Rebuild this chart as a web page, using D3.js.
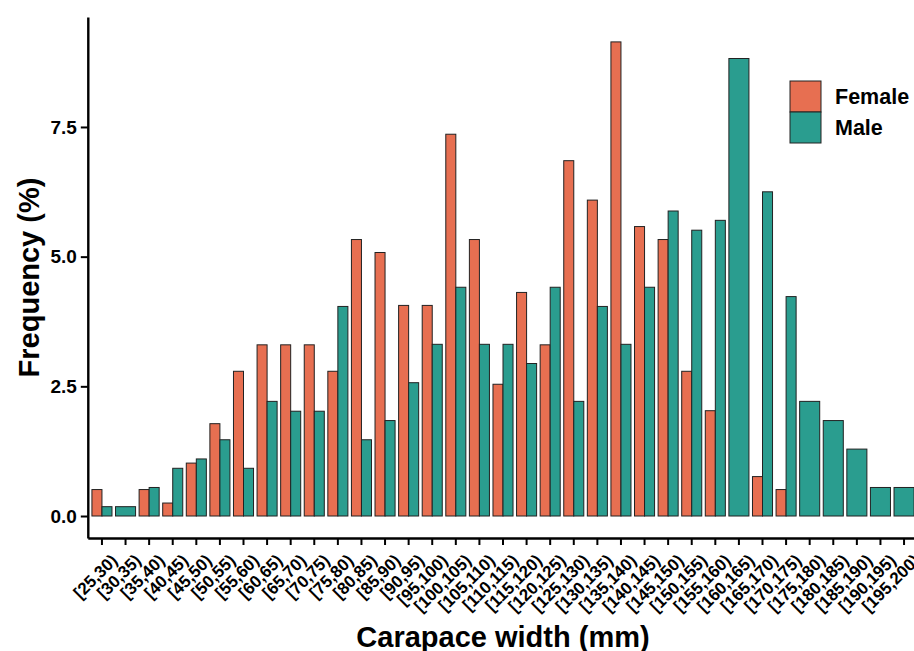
<!DOCTYPE html>
<html>
<head>
<meta charset="utf-8">
<script src="https://cdn.jsdelivr.net/npm/d3@7"></script>
<style>
  body { margin: 0; background: #fff; }
  svg { display: block; font-family: "Liberation Sans", Arial, sans-serif; }
</style>
</head>
<body>
<script>
const WIDTH  = 914;
const HEIGHT = 651;

// panel edges (ggplot-like, right side runs past the picture)
const LEFT = 87.8, RIGHT = 918.2, TOP = 17, BOTTOM = 538;

const categories = ["[25,30)","[30,35)","[35,40)","[40,45)","[45,50)","[50,55)","[55,60)",
  "[60,65)","[65,70)","[70,75)","[75,80)","[80,85)","[85,90)","[90,95)","[95,100)",
  "[100,105)","[105,110)","[110,115)","[115,120)","[120,125)","[125,130)","[130,135)",
  "[135,140)","[140,145)","[145,150)","[150,155)","[155,160)","[160,165)","[165,170)",
  "[170,175)","[175,180)","[180,185)","[185,190)","[190,195)","[195,200)"];

// frequency (%) per class, null where there is no bar
const female = [0.51, null, 0.51, 0.25, 1.02, 1.78, 2.79, 3.30, 3.30, 3.30, 2.79, 5.33,
  5.08, 4.06, 4.06, 7.36, 5.33, 2.54, 4.31, 3.30, 6.85, 6.09, 9.14, 5.58, 5.33, 2.79,
  2.03, null, 0.76, 0.51, null, null, null, null, null];
const male = [0.18, 0.18, 0.55, 0.92, 1.10, 1.47, 0.92, 2.21, 2.02, 2.02, 4.04, 1.47,
  1.84, 2.57, 3.31, 4.41, 3.31, 3.31, 2.94, 4.41, 2.21, 4.04, 3.31, 4.41, 5.88, 5.51,
  5.70, 8.82, 6.25, 4.23, 2.21, 1.84, 1.29, 0.55, 0.55];

const seriesNames  = ["Female", "Male"];
const seriesColors = ["#E76F51", "#2A9D8F"];
const yTicks = [0, 2.5, 5, 7.5];

function setUpChart() {
  const canvas = d3.select("body").append("svg")
      .attr("width", WIDTH)
      .attr("height", HEIGHT);
  return canvas;
}

function setScale() {
  const xScale = d3.scaleBand()
      .domain(categories)
      .range([LEFT, RIGHT])
      .paddingInner(0.15)
      .paddingOuter(0.175);
  const yScale = d3.scaleLinear()
      .domain([-0.424, 9.62])
      .range([BOTTOM, TOP]);
  return [xScale, yScale];
}

function addAxis(canvas, xScale, yScale) {
  const xAxis = d3.axisBottom(xScale).tickSize(7).tickSizeOuter(0).tickPadding(4);
  const yAxis = d3.axisLeft(yScale).tickValues(yTicks)
      .tickFormat(d3.format(".1f")).tickSize(7).tickSizeOuter(0).tickPadding(4);

  const gx = canvas.append("g")
      .attr("id", "x-axis")
      .attr("transform", "translate(0," + BOTTOM + ")")
      .call(xAxis);
  gx.select(".domain").attr("stroke-width", 2.4);
  gx.selectAll(".tick line").attr("stroke-width", 2);
  gx.selectAll(".tick text")
      .attr("font-size", 17)
      .attr("font-weight", "bold")
      .attr("fill", "#000")
      .attr("text-anchor", "end")
      .attr("dy", "0.71em")
      .attr("y", 0)
      .attr("transform", "translate(8,15) rotate(-45)");

  const gy = canvas.append("g")
      .attr("id", "y-axis")
      .attr("transform", "translate(" + LEFT + ",0)")
      .call(yAxis);
  gy.select(".domain").attr("stroke-width", 2.4);
  gy.selectAll(".tick line").attr("stroke-width", 2);
  gy.selectAll(".tick text")
      .attr("font-size", 19)
      .attr("font-weight", "bold")
      .attr("fill", "#000");

  // axis titles
  canvas.append("text")
      .attr("x", (LEFT + RIGHT) / 2)
      .attr("y", 647)
      .attr("text-anchor", "middle")
      .attr("font-size", 29)
      .attr("font-weight", "bold")
      .text("Carapace width (mm)");

  canvas.append("text")
      .attr("transform", "translate(39," + ((TOP + BOTTOM) / 2) + ") rotate(-90)")
      .attr("text-anchor", "middle")
      .attr("font-size", 29)
      .attr("font-weight", "bold")
      .text("Frequency (%)");
}

function drawChart(canvas, xScale, yScale) {
  const rows = categories.map((c, i) => {
    const vals = [female[i], male[i]];
    const present = seriesNames.filter((s, j) => vals[j] != null);
    const sub = d3.scaleBand().domain(present)
        .range([xScale(c), xScale(c) + xScale.bandwidth()]);
    return seriesNames.map((s, j) => ({ cat: c, name: s, value: vals[j], sub: sub, color: seriesColors[j] }))
        .filter(d => d.value != null);
  }).flat();

  canvas.append("g").selectAll("rect")
      .data(rows)
      .enter()
      .append("rect")
        .attr("x", d => d.sub(d.name))
        .attr("y", d => yScale(d.value))
        .attr("width", d => d.sub.bandwidth())
        .attr("height", d => yScale(0) - yScale(d.value))
        .attr("fill", d => d.color)
        .attr("stroke", "#222")
        .attr("stroke-width", 1);
}

function addLegend(canvas) {
  const legend = canvas.append("g").attr("transform", "translate(790,81)");
  const items = legend.selectAll("g")
      .data(seriesNames)
      .enter()
      .append("g")
        .attr("transform", (d, i) => "translate(0," + (i * 31) + ")");
  items.append("rect")
      .attr("width", 31)
      .attr("height", 31)
      .attr("fill", (d, i) => seriesColors[i])
      .attr("stroke", "#222")
      .attr("stroke-width", 1);
  items.append("text")
      .attr("x", 45)
      .attr("y", 15.5)
      .attr("dy", "0.36em")
      .attr("font-size", 21.5)
      .attr("font-weight", "bold")
      .text(d => d);
}

// Main Code
const canvas = setUpChart();
const [xScale, yScale] = setScale();
drawChart(canvas, xScale, yScale);
addAxis(canvas, xScale, yScale);
addLegend(canvas);
</script>
</body>
</html>
